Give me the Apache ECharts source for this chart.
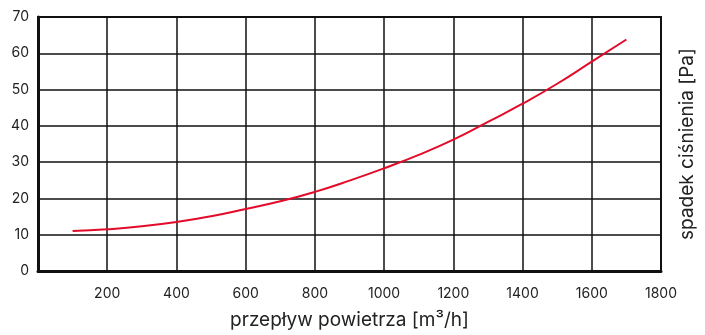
<!DOCTYPE html>
<html><head><meta charset="utf-8">
<script src="https://cdn.jsdelivr.net/npm/echarts@6/dist/echarts.min.js"></script>
<style>html,body{margin:0;padding:0;background:#fff}#c{width:705px;height:335px}</style>
</head><body><div id="c"></div>
<script>
const flow = [100,200,300,400,500,600,700,800,900,1000,1100,1200,1300,1400,1500,1600,1700];
const pressure = [11,11.5,12.3,13.5,15.1,17.1,19.2,21.8,24.9,28.3,32,36.2,41.1,46.1,51.6,57.7,63.8];
const xTitle = 'przepływ powietrza [m³/h]';
const yTitle = 'spadek ciśnienia [Pa]';
const font = 'Inter';
const chart = echarts.init(document.getElementById('c'));
chart.setOption({
  animation:false,
  grid:{left:38,right:38,top:17,bottom:63,show:true,borderColor:'#111',borderWidth:2},
  xAxis:{type:'value',min:0,max:1800,interval:200,
    name:xTitle,nameLocation:'middle',nameGap:40,
    nameTextStyle:{fontFamily:font,fontSize:19,color:'#222'},
    axisLine:{lineStyle:{color:'#111',width:3}},axisTick:{show:false},
    axisLabel:{showMinLabel:false,fontFamily:font,fontSize:14,color:'#222',margin:16,
      formatter:v=>String(v)},
    splitLine:{lineStyle:{color:'#111',width:1.5}}},
  yAxis:[{type:'value',min:0,max:70,interval:10,
    axisLine:{show:true,lineStyle:{color:'#111',width:3}},axisTick:{show:false},
    axisLabel:{fontFamily:font,fontSize:14,color:'#222',margin:9},
    splitLine:{lineStyle:{color:'#111',width:1.5}}},
   {type:'value',min:0,max:70,position:'right',
    name:yTitle,nameLocation:'middle',nameGap:17,nameRotate:90,
    nameTextStyle:{fontFamily:font,fontSize:19,color:'#222'},
    axisLine:{show:false},axisTick:{show:false},axisLabel:{show:false},splitLine:{show:false}}],
  series:[{type:'line',smooth:true,symbol:'none',
    data:flow.map((f,i)=>[f,pressure[i]]),
    lineStyle:{color:'#e30b2a',width:2}}]
});
</script></body></html>
